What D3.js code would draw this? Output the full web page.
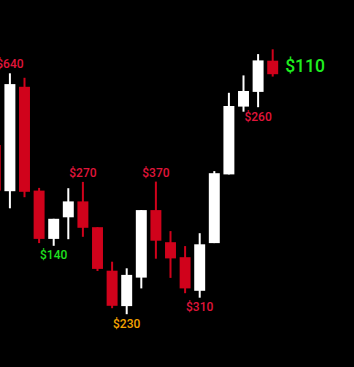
<!DOCTYPE html>
<html lang="en">
  <head>
    <title>Candlestick Chart</title>
    <meta charset="utf-8">
    <script src="https://d3js.org/d3.v7.min.js"></script>
    <style>
      html, body {
        margin: 0;
        padding: 0;
        background: #000;
        overflow: hidden;
      }
      text {
        font-family: Roboto, "Noto Sans", sans-serif;
      }
    </style>
  </head>
  <body>
    <div id="main"></div>
    <script>
      // candle values (price units)
      var open  = [65.0, 49.6, 84.4, 49.8, 33.7, 40.9, 46.2, 37.6, 23.1, 11.3, 20.8, 43.3, 32.6, 27.6, 16.4, 32.3, 55.2, 77.8, 82.7, 93.1];
      var high  = [65.0, 88.9, 87.4, 50.7, 40.4, 50.6, 52.7, 37.6, 26.1, 23.9, 43.3, 52.8, 36.3, 31.3, 35.6, 56.3, 82.4, 88.2, 95.3, 96.9];
      var low   = [49.3, 43.9, 47.6, 32.3, 31.4, 33.6, 34.4, 23.0, 10.6,  8.6, 17.2, 27.1, 20.7, 15.6, 14.1, 32.3, 55.2, 76.1, 77.6, 87.8];
      var close = [49.8, 85.3, 49.4, 33.7, 40.4, 46.2, 37.4, 23.7, 11.4, 21.7, 43.3, 33.1, 27.2, 17.2, 31.9, 55.6, 78.0, 83.0, 93.2, 88.6];

      // annotations: which candle, text, side and kind
      var labelIndex = [1, 6, 11, 4, 9, 14, 18, 19];
      var labelText  = ["$640", "$270", "$370", "$140", "$230", "$310", "$260", "$110"];
      var labelSide  = ["above", "above", "above", "below", "below", "below", "below", "right"];
      var labelKind  = ["peak", "peak", "peak", "support", "bottom", "peak", "peak", "last"];

      var width = 354, height = 367;
      var upColor = "#ffffff", downColor = "#d0021b";
      var kindColor = {peak: "#e0153a", support: "#1fe01f", bottom: "#f5a300", last: "#1fee1f"};

      var candles = open.map(function(o, i) {
        return {i: i, open: o, high: high[i], low: low[i], close: close[i]};
      });
      var labels = labelIndex.map(function(idx, k) {
        return {c: candles[idx], text: labelText[k], side: labelSide[k], kind: labelKind[k]};
      });

      var x = d3.scaleBand()
        .domain(candles.map(function(d) { return d.i; }))
        .range([-12, 280])
        .paddingInner(0.25)
        .paddingOuter(0.125);
      var y = d3.scaleLinear().domain([0, 100]).range([340, 40]);

      var svg = d3.select("#main").append("svg")
        .attr("width", width)
        .attr("height", height)
        .style("display", "block")
        .style("background", "#000");

      function col(d) { return d.close >= d.open ? upColor : downColor; }
      function cx(d) { return x(d.i) + x.bandwidth() / 2; }

      var g = svg.selectAll(".candle").data(candles).enter().append("g")
        .attr("class", "candle");
      g.append("line")
        .attr("x1", cx).attr("x2", cx)
        .attr("y1", function(d) { return y(d.high); })
        .attr("y2", function(d) { return y(d.low); })
        .attr("stroke", col)
        .attr("stroke-width", 2);
      g.append("rect")
        .attr("x", function(d) { return x(d.i); })
        .attr("width", x.bandwidth())
        .attr("y", function(d) { return y(Math.max(d.open, d.close)); })
        .attr("height", function(d) { return Math.max(1, Math.abs(y(d.open) - y(d.close))); })
        .attr("fill", col);

      svg.selectAll(".lbl").data(labels).enter().append("text")
        .attr("class", "lbl")
        .attr("x", function(d) { return d.side == "right" ? x(d.c.i) + x.bandwidth() + 7 : cx(d.c); })
        .attr("y", function(d) {
          if (d.side == "above") return y(d.c.high) - 5;
          if (d.side == "below") return y(d.c.low) + 13.5;
          return y((d.c.open + d.c.close) / 2) + 5;
        })
        .attr("text-anchor", function(d) { return d.side == "right" ? "start" : "middle"; })
        .attr("font-size", function(d) { return d.side == "right" ? 17.5 : 12; })
        .attr("font-weight", 500)
        .attr("fill", function(d) { return kindColor[d.kind]; })
        .text(function(d) { return d.text; });
    </script>
  </body>
</html>
